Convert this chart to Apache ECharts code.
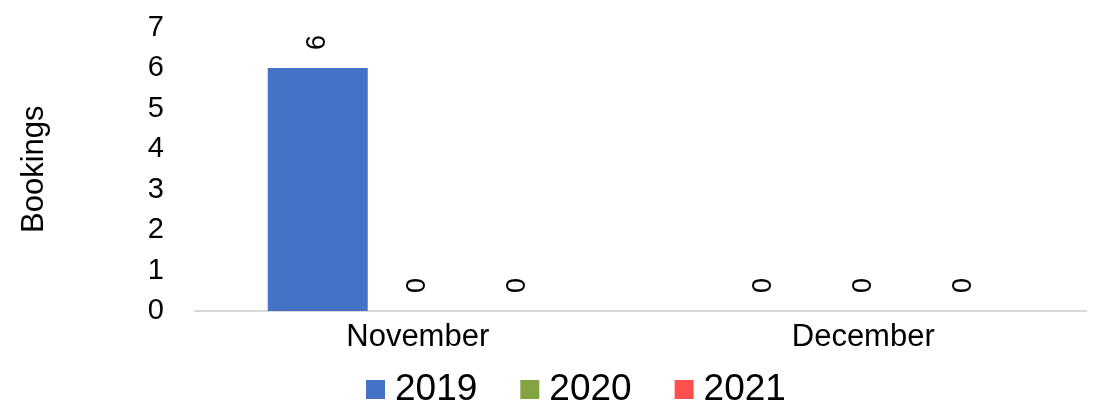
<!DOCTYPE html>
<html>
<head>
<meta charset="utf-8">
<script src="https://cdn.jsdelivr.net/npm/echarts@6/dist/echarts.min.js"></script>
<style>
html,body{margin:0;padding:0;background:#fff;}
#chart{width:1094px;height:407px;}
</style>
</head>
<body>
<div id="chart"></div>
<script>
const categories = ['November', 'December'];
const seriesNames = ['2019', '2020', '2021'];
const values2019 = [6, 0];
const values2020 = [0, 0];
const values2021 = [0, 0];
const yTicks = [0, 1, 2, 3, 4, 5, 6, 7];
const colors = ['#4472C4', '#84A443', '#FF5050'];

const FONT = 'Liberation Sans, Arial, sans-serif';
const chart = echarts.init(document.getElementById('chart'));
const dataSets = [values2019, values2020, values2021];

chart.setOption({
  animation: false,
  textStyle: { fontFamily: FONT, color: '#000' },
  grid: { left: 195, right: 8, top: 27.5, bottom: 96, containLabel: false },
  legend: {
    data: seriesNames,
    top: 371,
    left: 366,
    padding: 0,
    itemWidth: 19,
    itemHeight: 19,
    itemGap: 43,
    icon: 'rect',
    textStyle: { fontSize: 37, color: '#000', fontFamily: FONT, padding: [0, 0, 0, 5] }
  },
  xAxis: {
    type: 'category',
    data: categories,
    axisLine: { show: true, lineStyle: { color: '#D9D9D9', width: 2 } },
    axisTick: { show: false },
    axisLabel: { fontSize: 31, color: '#000', margin: 11, fontFamily: FONT }
  },
  yAxis: {
    type: 'value',
    min: yTicks[0],
    max: yTicks[yTicks.length - 1],
    interval: 1,
    name: 'Bookings',
    nameLocation: 'middle',
    nameGap: 145,
    nameTextStyle: { fontSize: 31, color: '#000', fontFamily: FONT },
    axisLine: { show: false },
    axisTick: { show: false },
    splitLine: { show: false },
    axisLabel: { fontSize: 29, color: '#000', margin: 31, fontFamily: FONT }
  },
  series: seriesNames.map((name, i) => ({
    name: name,
    type: 'bar',
    data: dataSets[i],
    barWidth: 100,
    barGap: '0%',
    itemStyle: { color: colors[i] },
    label: {
      show: true,
      position: 'top',
      rotate: 90,
      align: 'left',
      verticalAlign: 'middle',
      distance: 18,
      fontSize: 27,
      color: '#000',
      fontFamily: FONT
    }
  }))
});
</script>
</body>
</html>
